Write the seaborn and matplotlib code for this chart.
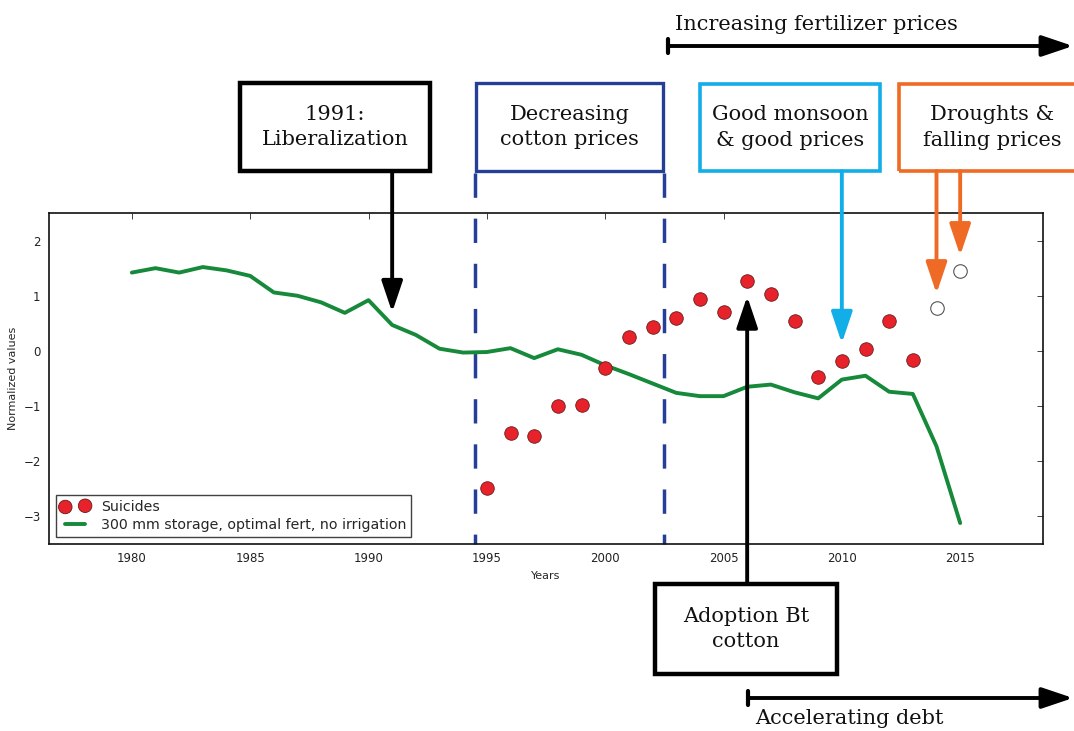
import numpy as np
import pandas as pd
import matplotlib
matplotlib.use('Agg')
import matplotlib.pyplot as plt
import seaborn as sns
from matplotlib.patches import Rectangle, FancyArrowPatch
from matplotlib.lines import Line2D

# model series (normalized)
model_years = list(range(1980, 2016))
model_values = [1.42, 1.50, 1.42, 1.52, 1.46, 1.36, 1.06, 1.00, 0.88, 0.69, 0.92, 0.47, 0.29, 0.04,
                -0.03, -0.02, 0.05, -0.13, 0.03, -0.07, -0.26, -0.42, -0.59, -0.76, -0.82, -0.82,
                -0.65, -0.61, -0.75, -0.86, -0.52, -0.45, -0.74, -0.78, -1.73, -3.12]
# suicides (normalized)
suicide_years = list(range(1995, 2014))
suicide_values = [-2.48, -1.48, -1.54, -0.99, -0.98, -0.31, 0.25, 0.43, 0.59, 0.94, 0.70,
                  1.27, 1.04, 0.55, -0.48, -0.18, 0.04, 0.54, -0.17]
# later years, open markers
extra_years = [2014, 2015]
extra_values = [0.77, 1.44]

model_label = '300 mm storage, optimal fert, no irrigation'
suicide_label = 'Suicides'

GREEN = '#16893a'
RED = '#e8222a'
NAVY = '#263f96'
SKY = '#12aee8'
ORANGE = '#ef6a24'

W, H = 1074, 731
HEAD = '-|>,head_length=0.95,head_width=0.32'

sns.set_style('white')
plt.rcParams['font.family'] = ['DejaVu Sans']

fig = plt.figure(figsize=(W / 100, H / 100), dpi=100)
ax = fig.add_axes([49 / W, 1 - 544 / H, (1043 - 49) / W, (544 - 213) / H])

df_model = pd.DataFrame({'year': model_years, 'value': model_values})
df_sui = pd.DataFrame({'year': suicide_years, 'value': suicide_values})
df_extra = pd.DataFrame({'year': extra_years, 'value': extra_values})

sns.scatterplot(data=df_sui, x='year', y='value', ax=ax, color=RED, s=95,
                edgecolor='#6b1a1a', linewidth=0.6, zorder=4, label=suicide_label)
sns.lineplot(data=df_model, x='year', y='value', ax=ax, color=GREEN, lw=2.8,
             zorder=3, label=model_label)
sns.scatterplot(data=df_extra, x='year', y='value', ax=ax, color='white', s=95,
                edgecolor='#555555', linewidth=0.8, zorder=4)

ax.set_xlim(1976.5, 2018.5)
ax.set_ylim(-3.5, 2.5)
ax.set_xticks(range(1980, 2016, 5))
ax.set_yticks(range(-3, 3))
ax.tick_params(direction='in', top=True, right=True, labelsize=8.5, length=4, width=0.6,
               pad=6, colors='#222222')
for s in ax.spines.values():
    s.set_linewidth(1.2)
    s.set_color('#111111')
ax.set_xlabel('Years', fontsize=8)
ax.set_ylabel('Normalized values', fontsize=8)

leg = ax.legend(loc='lower left', numpoints=2, scatterpoints=2, fontsize=10.2, frameon=True,
                fancybox=False, borderaxespad=0.5, handlelength=2.0, labelspacing=0.3,
                borderpad=0.35, handletextpad=0.8)
leg.get_frame().set_edgecolor('#111111')
leg.get_frame().set_linewidth(1.0)

# decreasing cotton price period
for yr in [1994.5, 2002.5]:
    ax.plot([yr, yr], [3.22, -3.5], color=NAVY, lw=2.5, ls=(0, (7, 6)), clip_on=False, zorder=2)


def fx(px):
    return px / W


def fy(py):
    return 1 - py / H


def box(x0, y0, x1, y1, color, lw, text):
    r = Rectangle((fx(x0), fy(y1)), fx(x1 - x0), (y1 - y0) / H, transform=fig.transFigure,
                  fill=False, edgecolor=color, lw=lw, clip_on=False)
    fig.add_artist(r)
    fig.text(fx((x0 + x1) / 2), fy((y0 + y1) / 2), text, ha='center', va='center', fontsize=15,
             family='DejaVu Serif', color='#111111', linespacing=1.4)


box(240, 83, 430, 171, 'black', 3.2, '1991:\nLiberalization')
box(476, 83, 663, 171, NAVY, 2.4, 'Decreasing\ncotton prices')
box(700, 84, 880, 171, SKY, 2.6, 'Good monsoon\n& good prices')
box(899, 84, 1085, 171, ORANGE, 2.6, 'Droughts &\nfalling prices')
box(655, 584, 837, 674, 'black', 3.2, 'Adoption Bt\ncotton')


def arrow(year, tip, start_py, color):
    ax.annotate('', xy=(year, tip), xycoords='data',
                xytext=(fx(ax.transData.transform((year, 0))[0]), fy(start_py)),
                textcoords='figure fraction',
                arrowprops=dict(arrowstyle=HEAD, color=color, lw=2.8, shrinkA=0, shrinkB=0,
                                mutation_scale=20),
                annotation_clip=False, zorder=6)


fig.canvas.draw()
arrow(1991, 0.70, 171, 'black')
arrow(2010, 0.14, 171, SKY)
arrow(2014, 1.04, 171, ORANGE)
arrow(2015, 1.73, 171, ORANGE)
arrow(2006, 0.99, 584, 'black')


def timeline(x0, py, text, text_py):
    fig.add_artist(Line2D([fx(x0), fx(x0)], [fy(py - 7), fy(py + 7)], transform=fig.transFigure,
                          color='black', lw=3))
    fig.add_artist(FancyArrowPatch((fx(x0), fy(py)), (fx(1073), fy(py)),
                                   transform=fig.transFigure, arrowstyle=HEAD,
                                   mutation_scale=20, color='black', lw=2.8,
                                   shrinkA=0, shrinkB=0))
    fig.text(fx(x0 + 7), fy(text_py), text, ha='left', va='center', fontsize=15,
             family='DejaVu Serif', color='#111111')


timeline(668, 46, 'Increasing fertilizer prices', 24)
timeline(748, 698, 'Accelerating debt', 718)

fig.savefig('out.png', dpi=100)
